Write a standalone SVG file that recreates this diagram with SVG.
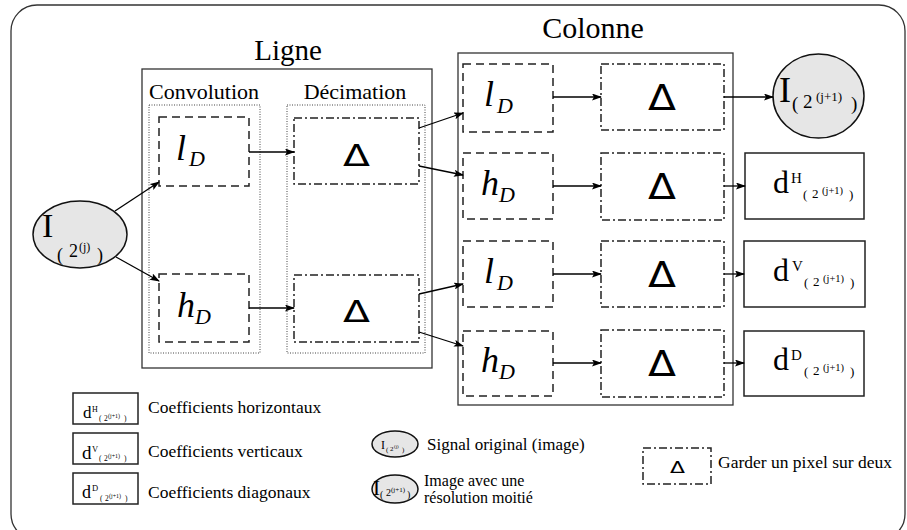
<svg xmlns="http://www.w3.org/2000/svg" width="907" height="530" viewBox="0 0 907 530">
<style>
.serif{font-family:'Liberation Serif','Tinos','DejaVu Serif','Noto Serif',serif;fill:#000}
.it{font-family:'Liberation Serif','Tinos','DejaVu Serif','Noto Serif',serif;font-style:italic;fill:#000}
.delta{font-family:'DejaVu Sans',sans-serif;fill:#000;text-anchor:middle}
.frame{fill:none;stroke:#333;stroke-width:1.3}
.dots{fill:none;stroke:#444;stroke-width:1;stroke-dasharray:1,1.5}
.dash{fill:none;stroke:#222;stroke-width:1.5;stroke-dasharray:8,5}
.dashdot{fill:none;stroke:#222;stroke-width:1.5;stroke-dasharray:8,3,2,3}
.solid{fill:#fff;stroke:#222;stroke-width:1.5}
.ell{fill:#e6e6e6;stroke:#111;stroke-width:1.5}
.conn line{stroke:#000;stroke-width:1.3;marker-end:url(#ah)}
</style>
<defs>
<marker id="ah" markerUnits="userSpaceOnUse" markerWidth="10" markerHeight="7" refX="9" refY="3.5" orient="auto">
<path d="M0,0 L10,3.5 L0,7 L2,3.5 z" fill="#000"/>
</marker>
</defs>
<rect x="11" y="5" width="894" height="535" rx="26" fill="#fff" stroke="#333" stroke-width="1.3"/>

<g id="ligne">
<rect class="frame" x="142" y="69" width="290" height="299"/>
<text class="serif" x="288" y="60" font-size="29" text-anchor="middle">Ligne</text>
</g>
<g id="convolution">
<rect class="dots" x="149" y="105" width="111" height="248"/>
<text class="serif" x="204" y="99" font-size="22" text-anchor="middle">Convolution</text>
</g>
<g id="decimation">
<rect class="dots" x="287" y="105" width="138" height="248"/>
<text class="serif" x="355" y="99" font-size="22" text-anchor="middle">Décimation</text>
</g>
<g id="colonne">
<rect class="frame" x="458" y="53" width="275" height="352"/>
<text class="serif" x="593" y="38" font-size="30" text-anchor="middle">Colonne</text>
</g>

<g id="input">
<ellipse class="ell" cx="80" cy="234.5" rx="47" ry="33.5"/>
<text class="serif" font-size="34"><tspan x="42" y="237">I</tspan><tspan x="57" y="261" font-size="18">(</tspan><tspan x="69" y="257" font-size="18">2</tspan><tspan x="79" y="251" font-size="12">(j)</tspan><tspan x="97" y="261" font-size="18">)</tspan></text>
</g>

<g id="l1">
<rect class="dash" x="159" y="117" width="90" height="69"/>
<text class="it" x="176" y="160" font-size="36">l<tspan font-size="22" dx="3" dy="6">D</tspan></text>
</g>
<g id="h1">
<rect class="dash" x="159" y="274" width="90" height="68"/>
<text class="it" x="177" y="317" font-size="36">h<tspan font-size="22" dy="7">D</tspan></text>
</g>
<g id="d1">
<rect class="dashdot" x="294" y="118" width="125" height="66"/>
<text class="delta" x="356.5" y="166" font-size="31" textLength="27" lengthAdjust="spacingAndGlyphs">Δ</text>
</g>
<g id="d2">
<rect class="dashdot" x="294" y="275" width="125" height="67"/>
<text class="delta" x="356.5" y="322" font-size="31" textLength="27" lengthAdjust="spacingAndGlyphs">Δ</text>
</g>

<g id="cl1">
<rect class="dash" x="463" y="64" width="90" height="68"/>
<text class="it" x="484" y="106" font-size="36">l<tspan font-size="22" dx="3" dy="7">D</tspan></text>
</g>
<g id="ch2">
<rect class="dash" x="463" y="153" width="90" height="66"/>
<text class="it" x="481" y="195" font-size="36">h<tspan font-size="22" dy="7">D</tspan></text>
</g>
<g id="cl3">
<rect class="dash" x="463" y="241" width="90" height="66"/>
<text class="it" x="484" y="283" font-size="36">l<tspan font-size="22" dx="3" dy="7">D</tspan></text>
</g>
<g id="ch4">
<rect class="dash" x="463" y="331" width="90" height="65"/>
<text class="it" x="481" y="372" font-size="36">h<tspan font-size="22" dy="7">D</tspan></text>
</g>

<g id="cd1">
<rect class="dashdot" x="601" y="64" width="123" height="66"/>
<text class="delta" x="662" y="110" font-size="36" textLength="28" lengthAdjust="spacingAndGlyphs">Δ</text>
</g>
<g id="cd2">
<rect class="dashdot" x="601" y="153" width="123" height="67"/>
<text class="delta" x="662" y="199" font-size="36" textLength="28" lengthAdjust="spacingAndGlyphs">Δ</text>
</g>
<g id="cd3">
<rect class="dashdot" x="601" y="241" width="123" height="66"/>
<text class="delta" x="662" y="287" font-size="36" textLength="28" lengthAdjust="spacingAndGlyphs">Δ</text>
</g>
<g id="cd4">
<rect class="dashdot" x="601" y="330" width="123" height="67"/>
<text class="delta" x="662" y="376" font-size="36" textLength="28" lengthAdjust="spacingAndGlyphs">Δ</text>
</g>

<g id="output">
<ellipse class="ell" cx="818.5" cy="96" rx="45.5" ry="42"/>
<text class="serif" font-size="36"><tspan x="779" y="102">I</tspan><tspan x="792" y="110" font-size="19">(</tspan><tspan x="803" y="108" font-size="19">2</tspan><tspan x="816" y="101" font-size="13">(j+1)</tspan><tspan x="851" y="110" font-size="19">)</tspan></text>
</g>
<g id="dH">
<rect class="solid" x="745" y="153" width="119" height="66"/>
<text class="serif" font-size="32"><tspan x="773" y="193">d</tspan><tspan x="791" y="183" font-size="15">H</tspan><tspan x="803" y="199" font-size="13">(</tspan><tspan x="812" y="198" font-size="13">2</tspan><tspan x="822" y="194" font-size="10.5">(j+1)</tspan><tspan x="849" y="199" font-size="13">)</tspan></text>
</g>
<g id="dV">
<rect class="solid" x="744" y="241" width="121" height="66"/>
<text class="serif" font-size="32"><tspan x="773" y="281">d</tspan><tspan x="792" y="271" font-size="15">V</tspan><tspan x="804" y="287" font-size="13">(</tspan><tspan x="813" y="286" font-size="13">2</tspan><tspan x="823" y="282" font-size="10.5">(j+1)</tspan><tspan x="850" y="287" font-size="13">)</tspan></text>
</g>
<g id="dD">
<rect class="solid" x="744" y="331" width="120" height="65"/>
<text class="serif" font-size="32"><tspan x="773" y="370">d</tspan><tspan x="791" y="360" font-size="15">D</tspan><tspan x="804" y="376" font-size="13">(</tspan><tspan x="813" y="375" font-size="13">2</tspan><tspan x="823" y="371" font-size="10.5">(j+1)</tspan><tspan x="850" y="376" font-size="13">)</tspan></text>
</g>

<g class="conn" id="connectors">
<line x1="115" y1="211" x2="159" y2="182"/>
<line x1="116" y1="257" x2="159" y2="281"/>
<line x1="249" y1="152" x2="294" y2="152"/>
<line x1="249" y1="308" x2="294" y2="308"/>
<line x1="419" y1="128" x2="463" y2="113"/>
<line x1="419" y1="166" x2="463" y2="175"/>
<line x1="419" y1="294" x2="463" y2="284"/>
<line x1="419" y1="332" x2="463" y2="346"/>
<line x1="553" y1="97" x2="601" y2="97"/>
<line x1="553" y1="186" x2="601" y2="186"/>
<line x1="553" y1="274" x2="601" y2="274"/>
<line x1="553" y1="363" x2="601" y2="363"/>
<line x1="724" y1="97" x2="773" y2="97"/>
<line x1="724" y1="186" x2="745" y2="186"/>
<line x1="724" y1="274" x2="744" y2="274"/>
<line x1="724" y1="363" x2="744" y2="363"/>
</g>

<g id="legend-dH">
<rect class="solid" x="73" y="393" width="65" height="31" stroke-width="1.2"/>
<text class="serif" font-size="17"><tspan x="83" y="418">d</tspan><tspan x="92" y="412" font-size="8">H</tspan><tspan x="99" y="421" font-size="7.5">(</tspan><tspan x="104" y="421" font-size="7.5">2</tspan><tspan x="108" y="418" font-size="6">(j+1)</tspan><tspan x="124" y="421" font-size="7.5">)</tspan></text>
<text class="serif" x="148" y="413" font-size="17.5">Coefficients horizontaux</text>
</g>
<g id="legend-dV">
<rect class="solid" x="73" y="433" width="65" height="31" stroke-width="1.2"/>
<text class="serif" font-size="19"><tspan x="82" y="459">d</tspan><tspan x="92" y="452" font-size="8.5">V</tspan><tspan x="99" y="461" font-size="7.5">(</tspan><tspan x="104" y="461" font-size="7.5">2</tspan><tspan x="108" y="458" font-size="6">(j+1)</tspan><tspan x="124" y="461" font-size="7.5">)</tspan></text>
<text class="serif" x="148" y="457" font-size="17.5">Coefficients verticaux</text>
</g>
<g id="legend-dD">
<rect class="solid" x="73" y="473" width="65" height="31" stroke-width="1.2"/>
<text class="serif" font-size="18"><tspan x="82" y="498">d</tspan><tspan x="92" y="491" font-size="8.5">D</tspan><tspan x="100" y="501" font-size="7.5">(</tspan><tspan x="105" y="501" font-size="7.5">2</tspan><tspan x="109" y="498" font-size="6">(j+1)</tspan><tspan x="125" y="501" font-size="7.5">)</tspan></text>
<text class="serif" x="148" y="498" font-size="17.5">Coefficients diagonaux</text>
</g>
<g id="legend-input">
<ellipse class="ell" cx="395" cy="444" rx="23" ry="13" stroke-width="1.1"/>
<text class="serif" font-size="12"><tspan x="381" y="449">I</tspan><tspan x="386" y="452" font-size="7">(</tspan><tspan x="390" y="451" font-size="7">2</tspan><tspan x="394" y="448" font-size="5">(j)</tspan><tspan x="402" y="452" font-size="7">)</tspan></text>
<text class="serif" x="427" y="450" font-size="17">Signal original (image)</text>
</g>
<g id="legend-output">
<ellipse class="ell" cx="395" cy="489" rx="23" ry="14" stroke-width="1.1"/>
<text class="serif" font-size="21"><tspan x="373" y="495">I</tspan><tspan x="380" y="498" font-size="10">(</tspan><tspan x="386" y="496" font-size="10">2</tspan><tspan x="391" y="492" font-size="7">(j+1)</tspan><tspan x="407" y="498" font-size="10">)</tspan></text>
<text class="serif" x="424" y="486" font-size="16">Image avec une</text>
<text class="serif" x="424" y="502.5" font-size="16">résolution moitié</text>
</g>
<g id="legend-delta">
<rect class="dashdot" x="643" y="448" width="68" height="36" stroke-width="1.2"/>
<text class="delta" x="677.5" y="473" font-size="16" textLength="15" lengthAdjust="spacingAndGlyphs">Δ</text>
<text class="serif" x="718" y="468" font-size="17.5">Garder un pixel sur deux</text>
</g>
</svg>
